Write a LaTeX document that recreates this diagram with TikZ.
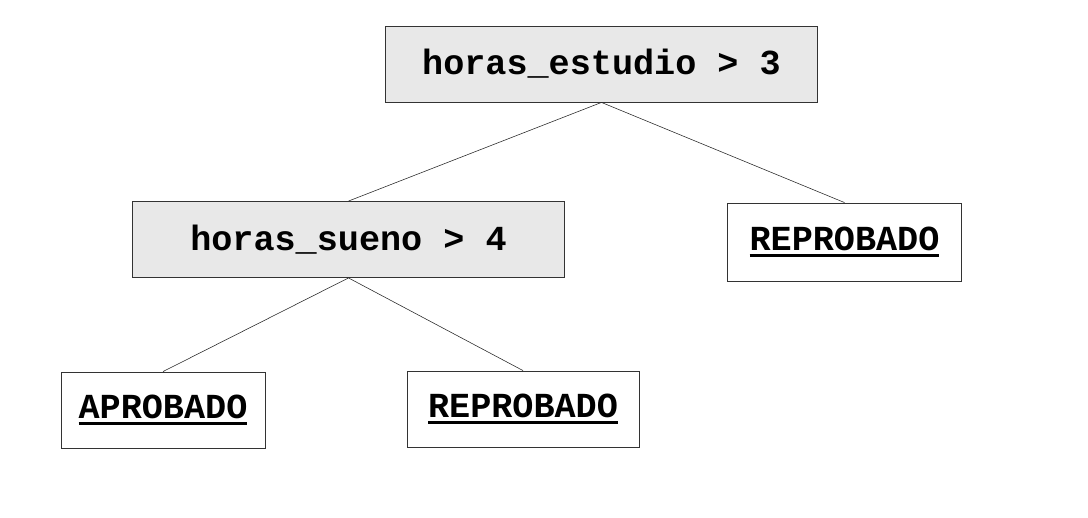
\documentclass[tikz,border=0pt]{standalone}
\usepackage{fontspec}
\setmonofont{Liberation Mono}
\usepackage{tikz}
\definecolor{testgray}{HTML}{E8E8E8}
\newcommand{\ulword}[1]{\setbox0\hbox{#1}\rlap{\rule[-0.19em]{\wd0}{0.1em}}\box0}

\begin{document}
\begin{tikzpicture}[x=0.025cm, y=-0.025cm,
	every node/.style={font=\ttfamily\bfseries\fontsize{25}{30}\selectfont},
	test/.style={draw=black!80, fill=testgray, line width=0.6pt, minimum width=10.78cm, minimum height=1.9cm, inner sep=0pt},
	leaf/.style={draw=black!80, fill=white, line width=0.6pt, minimum height=1.9cm, inner sep=0pt},
	edge/.style={draw=black!85, line width=0.4pt}]
	\useasboundingbox (0,0) rectangle (1088,518);
	\node[test] (H) at (601.5,64) {horas\_estudio > 3};
	\node[test] (S) at (348.5,239.5) {horas\_sueno > 4};
	\node[leaf, minimum width=5.83cm, minimum height=1.95cm] (R1) at (844.5,242) {\ulword{REPROBADO}};
	\node[leaf, minimum width=5.1cm] (A) at (163,410) {\ulword{APROBADO}};
	\node[leaf, minimum width=5.8cm] (R2) at (523,409) {\ulword{REPROBADO}};
	\draw[edge] (H.south) -- (S.north);
	\draw[edge] (H.south) -- (R1.north);
	\draw[edge] (S.south) -- (A.north);
	\draw[edge] (S.south) -- (R2.north);
\end{tikzpicture}
\end{document}
